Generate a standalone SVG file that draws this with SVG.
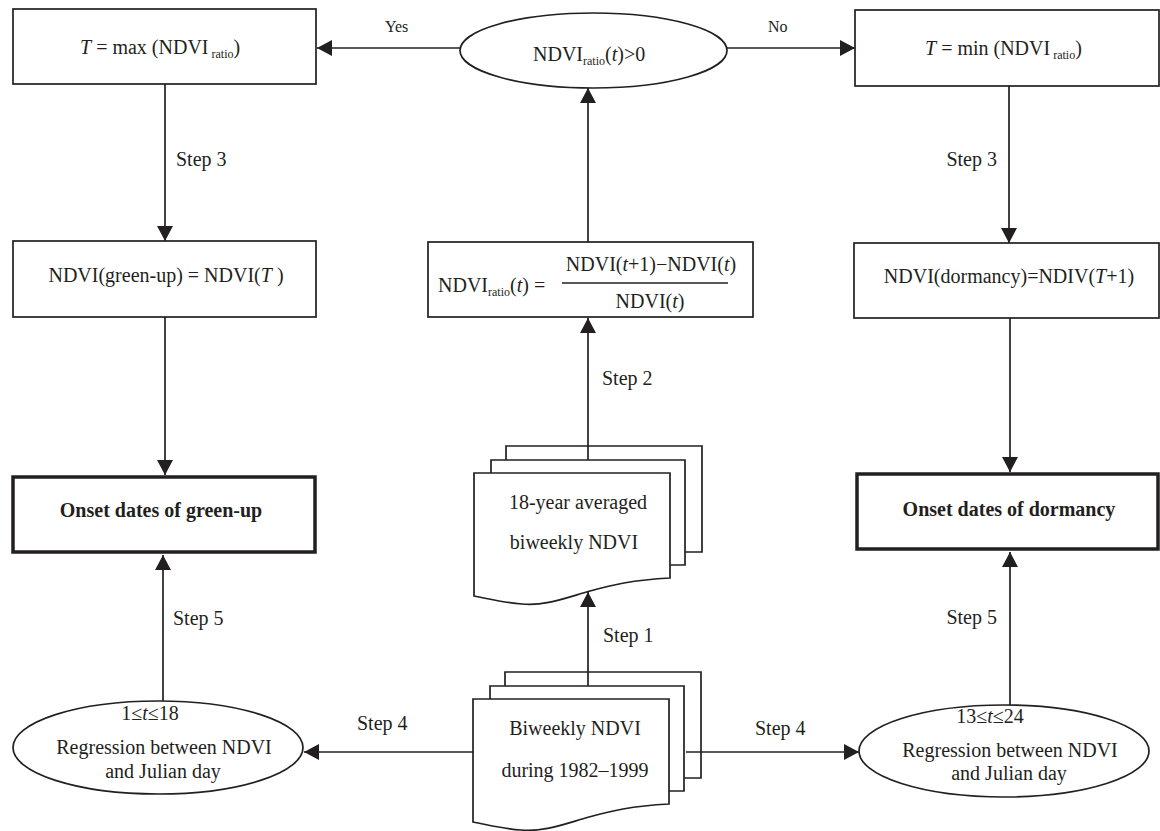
<svg xmlns="http://www.w3.org/2000/svg" width="1160" height="831" viewBox="0 0 1160 831">
<style>
text{font-family:"Liberation Serif","Times New Roman",serif;font-size:20px;fill:#231f20}
.c{text-anchor:middle}
.e{text-anchor:end}
.sm{font-size:16px}
.b{font-weight:bold}
.i{font-style:italic}
.sub{font-size:12px}
.box{fill:#fff;stroke:#231f20;stroke-width:1.7}
.thick{fill:#fff;stroke:#231f20;stroke-width:3.5}
.ln{fill:none;stroke:#231f20;stroke-width:1.7}
</style>
<defs>
<marker id="arr" viewBox="0 0 15 16" refX="15" refY="8" markerWidth="15" markerHeight="16" markerUnits="userSpaceOnUse" orient="auto">
<path d="M0,0 L15,8 L0,16 Z" fill="#231f20"/>
</marker>
<g id="stack">
<path class="ln" d="M506,460 V446 H702 V552 H685"/>
<path class="box" d="M491,473 V460 H685 V565 H670"/>
<path class="box" d="M474,473 H670 V578 C632,580 612,585 590,591 C562,599 545,606 522,604 C505,603 490,599 474,596 Z"/>
</g>
</defs>

<g id="connectors">
<line class="ln" x1="460" y1="48" x2="317" y2="48" marker-end="url(#arr)"/>
<line class="ln" x1="727" y1="48" x2="855" y2="48" marker-end="url(#arr)"/>
<line class="ln" x1="165" y1="84" x2="165" y2="241" marker-end="url(#arr)"/>
<line class="ln" x1="1009" y1="86" x2="1009" y2="243" marker-end="url(#arr)"/>
<line class="ln" x1="165" y1="317" x2="165" y2="475" marker-end="url(#arr)"/>
<line class="ln" x1="1010" y1="318" x2="1010" y2="472" marker-end="url(#arr)"/>
<line class="ln" x1="588" y1="242" x2="588" y2="88" marker-end="url(#arr)"/>
<line class="ln" x1="588" y1="460" x2="588" y2="318" marker-end="url(#arr)"/>
<line class="ln" x1="588" y1="688" x2="588" y2="592" marker-end="url(#arr)"/>
<line class="ln" x1="473" y1="752" x2="304" y2="752" marker-end="url(#arr)"/>
<line class="ln" x1="686" y1="752" x2="859" y2="752" marker-end="url(#arr)"/>
<line class="ln" x1="163" y1="701" x2="163" y2="555" marker-end="url(#arr)"/>
<line class="ln" x1="1010" y1="705" x2="1010" y2="552" marker-end="url(#arr)"/>
<text class="sm" x="385" y="32">Yes</text>
<text class="sm" x="768" y="32">No</text>
<text x="176" y="166">Step 3</text>
<text class="e" x="997" y="166">Step 3</text>
<text x="602" y="385">Step 2</text>
<text x="603" y="642">Step 1</text>
<text x="173" y="625">Step 5</text>
<text class="e" x="997" y="624">Step 5</text>
<text x="357" y="730">Step 4</text>
<text x="755" y="735">Step 4</text>
</g>

<g id="n-tmax">
<rect class="box" x="13" y="9" width="303" height="75"/>
<text x="80" y="54"><tspan class="i">T</tspan> = max (NDVI<tspan class="sub" dx="3" dy="4">ratio</tspan><tspan dy="-4">)</tspan></text>
</g>

<g id="n-cond">
<ellipse class="box" cx="593.5" cy="50.5" rx="133.5" ry="37.5"/>
<text x="533" y="61">NDVI<tspan class="sub" dy="4">ratio</tspan><tspan dy="-4">(</tspan><tspan class="i">t</tspan>)&gt;0</text>
</g>

<g id="n-tmin">
<rect class="box" x="855" y="10" width="304" height="76"/>
<text x="925" y="55"><tspan class="i">T</tspan> = min (NDVI<tspan class="sub" dx="3" dy="4">ratio</tspan><tspan dy="-4">)</tspan></text>
</g>

<g id="n-greenup-ndvi">
<rect class="box" x="13" y="241" width="303" height="76"/>
<text class="c" x="166" y="282">NDVI(green-up) = NDVI(<tspan class="i">T</tspan> )</text>
</g>

<g id="n-ratio">
<rect class="box" x="428" y="242" width="325" height="75"/>
<text x="438" y="292">NDVI<tspan class="sub" dy="4">ratio</tspan><tspan dy="-4">(</tspan><tspan class="i">t</tspan>) =</text>
<text class="c" x="651" y="271">NDVI(<tspan class="i">t</tspan>+1)−NDVI(<tspan class="i">t</tspan>)</text>
<line class="ln" x1="562" y1="283" x2="728" y2="283"/>
<text class="c" x="650" y="308">NDVI(<tspan class="i">t</tspan>)</text>
</g>

<g id="n-dormancy-ndvi">
<rect class="box" x="854" y="243" width="305" height="75"/>
<text class="c" x="1009" y="283">NDVI(dormancy)=NDIV(<tspan class="i">T</tspan>+1)</text>
</g>

<g id="n-greenup">
<rect class="thick" x="13" y="477" width="302" height="75"/>
<text class="c b" x="161" y="517">Onset dates of green-up</text>
</g>

<g id="n-dormancy">
<rect class="thick" x="857" y="474" width="301" height="75"/>
<text class="c b" x="1009" y="516">Onset dates of dormancy</text>
</g>

<g id="n-avg">
<use href="#stack"/>
<text class="c" x="578" y="509">18-year averaged</text>
<text class="c" x="574" y="549">biweekly NDVI</text>
</g>

<g id="n-biweekly">
<use href="#stack" transform="translate(-1,226)"/>
<text class="c" x="575" y="735">Biweekly NDVI</text>
<text class="c" x="575" y="777">during 1982–1999</text>
</g>

<g id="n-reg-left">
<ellipse class="box" cx="158" cy="747.5" rx="145" ry="46.5"/>
<text class="c" x="150" y="720">1≤<tspan class="i">t</tspan>≤18</text>
<text class="c" x="164" y="754">Regression between NDVI</text>
<text class="c" x="163" y="778">and Julian day</text>
</g>

<g id="n-reg-right">
<ellipse class="box" cx="1004" cy="751" rx="145" ry="46"/>
<text class="c" x="990" y="723">13≤<tspan class="i">t</tspan>≤24</text>
<text class="c" x="1010" y="757">Regression between NDVI</text>
<text class="c" x="1009" y="780">and Julian day</text>
</g>
</svg>
